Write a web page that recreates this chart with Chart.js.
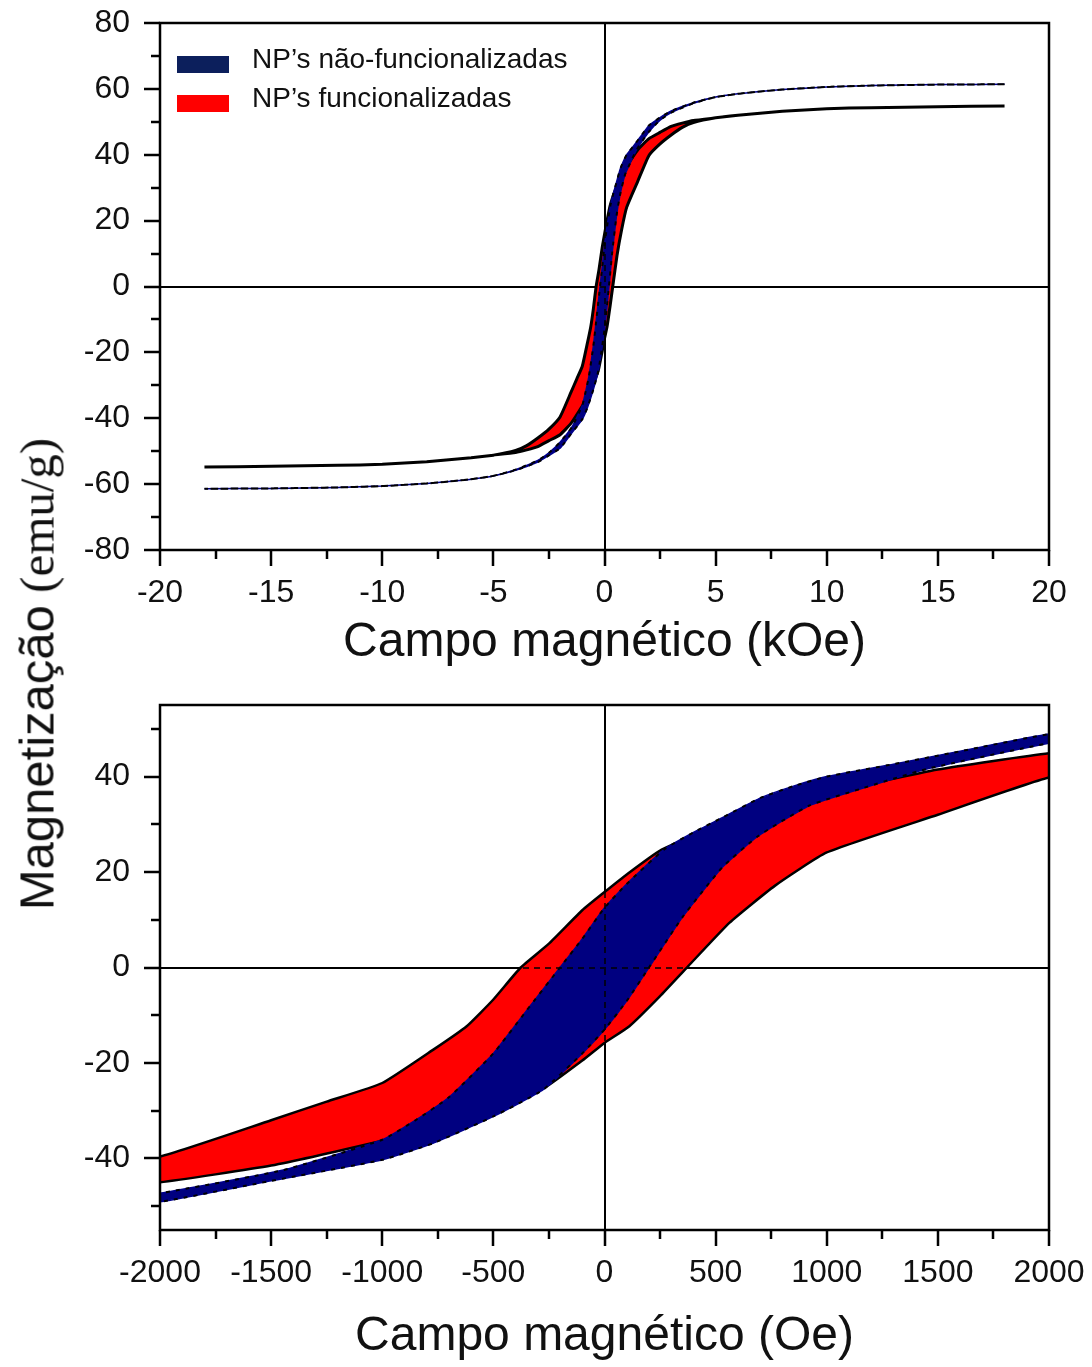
<!DOCTYPE html>
<html>
<head>
<meta charset="utf-8">
<script src="https://cdn.jsdelivr.net/npm/chart.js@4.4.1/dist/chart.umd.min.js"></script>
<style>
  html, body { margin: 0; padding: 0; background: #fff; }
  #wrap { position: relative; width: 1092px; height: 1367px; overflow: hidden; background: #fff; }
  canvas { position: absolute; left: 0; }
  #c1 { top: 0; }
  #c2 { top: 680px; }
  .sw { position: absolute; left: 177px; width: 52px; height: 17px; }
  .lt { position: absolute; left: 252px; font-family: 'Liberation Sans', Arial, sans-serif; font-size: 28px; line-height: 28px; color: #111; white-space: nowrap; }
  #ytitle { position: absolute; left: 37px; top: 674px; transform: translate(-50%, -50%) rotate(-90deg); white-space: nowrap; font-size: 49px; line-height: 49px; color: #111; }
  #ytitle .s { font-family: 'Liberation Sans', Arial, sans-serif; }
  #ytitle .r { font-family: 'Liberation Serif', 'Times New Roman', serif; }
</style>
</head>
<body>
<div id="wrap">
  <canvas id="c1" width="1092" height="680"></canvas>
  <canvas id="c2" width="1092" height="687"></canvas>
  <div id="legend"></div>
  <div id="ytitle"><span class="s">Magnetização</span> <span class="r">(emu/g)</span></div>
</div>
<script>
// ---------------- DATA (field in Oe, magnetization in emu/g) ----------------
const seriesNames = ['NP\u2019s não-funcionalizadas', 'NP\u2019s funcionalizadas'];

// Non-functionalized NPs (blue) - descending branch (upper)
const nfUpperField = [18000, 15000, 12000, 10000, 8000, 7000, 6000, 5000, 4000, 3000, 2500, 2000, 1600, 1300, 1000, 850, 700, 530, 400, 270, 100, 0, -100, -200, -350, -500, -700, -850, -1000, -1450, -2000, -2500, -3000, -4000, -5000, -6000, -7000, -8000, -10000, -12000, -15000, -18000];
const nfUpperMag   = [61.4, 61.3, 61.0, 60.6, 59.8, 59.2, 58.5, 57.5, 55.8, 53.3, 51.3, 48.9, 45.3, 42.6, 40.0, 38.0, 35.5, 31.4, 28.3, 24.8, 17.5, 12.5, 6.0, 0, -9.0, -18.0, -27.2, -32.0, -36.1, -42.5, -47.3, -50.5, -52.8, -55.6, -57.5, -58.5, -59.2, -59.8, -60.6, -61.0, -61.3, -61.4];
// Non-functionalized NPs (blue) - ascending branch (lower)
const nfLowerField = [-18000, -15000, -12000, -10000, -8000, -7000, -6000, -5000, -4000, -3000, -2500, -2000, -1500, -1000, -770, -500, -276, -100, 0, 100, 200, 350, 530, 690, 920, 1150, 1450, 2000, 2500, 3000, 4000, 5000, 6000, 7000, 8000, 10000, 12000, 15000, 18000];
const nfLowerMag   = [-61.4, -61.3, -61.0, -60.6, -59.8, -59.2, -58.5, -57.5, -55.8, -53.3, -51.3, -49.1, -44.7, -40.3, -36.8, -31.2, -25.6, -18.0, -13.0, -7.0, 0, 10.5, 21.0, 27.5, 33.9, 37.4, 41.6, 47.0, 50.5, 52.8, 55.6, 57.5, 58.5, 59.2, 59.8, 60.6, 61.0, 61.3, 61.4];

// Functionalized NPs (red) - descending branch (upper)
const fUpperField = [18000, 15000, 12000, 10000, 8000, 7000, 6000, 5000, 4000, 3500, 3000, 2500, 2000, 1500, 1000, 750, 500, 250, 100, 0, -100, -250, -377, -500, -620, -770, -1000, -1250, -1500, -2000, -2500, -3000, -3500, -4000, -5000, -6000, -7000, -8000, -10000, -12000, -15000, -18000];
const fUpperMag   = [54.8, 54.6, 54.3, 54.0, 53.2, 52.6, 52.0, 51.2, 50.4, 49.6, 48.6, 46.8, 44.9, 41.5, 36.5, 33.5, 29.5, 24.5, 19.5, 15.8, 12.0, 5.0, 0, -6.7, -12.3, -17.2, -24.2, -28.1, -32.0, -39.6, -43.3, -46.0, -48.3, -49.8, -51.2, -52.0, -52.6, -53.2, -54.0, -54.3, -54.6, -54.8];
// Functionalized NPs (red) - ascending branch (lower)
const fLowerField = [-18000, -15000, -12000, -10000, -8000, -7000, -6000, -5000, -4000, -3500, -3000, -2500, -2000, -1500, -1000, -750, -500, -276, -100, 0, 112, 250, 377, 563, 766, 1000, 1500, 2000, 2500, 3000, 3500, 4000, 5000, 6000, 7000, 8000, 10000, 12000, 15000, 18000];
const fLowerMag   = [-54.8, -54.6, -54.3, -54.0, -53.2, -52.6, -52.0, -51.2, -50.4, -49.6, -48.6, -46.8, -45.0, -41.5, -36.3, -33.3, -29.5, -25.4, -19.5, -15.8, -12.3, -6.0, 0.3, 9.4, 17.1, 24.1, 32.0, 39.8, 43.3, 46.0, 48.3, 49.8, 51.2, 52.0, 52.6, 53.2, 54.0, 54.3, 54.6, 54.8];

// Tick values
const topXTicks = [-20, -15, -10, -5, 0, 5, 10, 15, 20];
const topXMinor = [-17.5, -12.5, -7.5, -2.5, 2.5, 7.5, 12.5, 17.5];
const topYTicks = [-80, -60, -40, -20, 0, 20, 40, 60, 80];
const topYMinor = [-70, -50, -30, -10, 10, 30, 50, 70];
const botXTicks = [-2000, -1500, -1000, -500, 0, 500, 1000, 1500, 2000];
const botXMinor = [-1750, -1250, -750, -250, 250, 750, 1250, 1750];
const botYTicks = [-40, -20, 0, 20, 40];
const botYMinor = [-50, -30, -10, 10, 30, 50];

const topXTitle = 'Campo magnético (kOe)';
const botXTitle = 'Campo magnético (Oe)';

// ---------------- helpers ----------------
function loop(upF, upM, loF, loM, scale) {
  const pts = [];
  for (let i = 0; i < upF.length; i++) pts.push({x: upF[i] / scale, y: upM[i]});
  for (let i = 0; i < loF.length; i++) pts.push({x: loF[i] / scale, y: loM[i]});
  return pts;
}

const BLUE_FILL = '#000080';
const RED_FILL = '#ff0000';
const LEG_BLUE = '#0c1f5c';
const FONT = "'Liberation Sans', Arial, sans-serif";

const axesPlugin = {
  id: 'axesDeco',
  beforeDatasetsDraw(chart) {
    const {ctx, chartArea: a, scales: {x, y}} = chart;
    const x0 = Math.round(x.getPixelForValue(0)), y0 = Math.round(y.getPixelForValue(0));
    ctx.save();
    ctx.strokeStyle = '#000';
    ctx.lineWidth = 2;
    ctx.beginPath();
    ctx.moveTo(a.left, y0); ctx.lineTo(a.right, y0);
    ctx.moveTo(x0, a.top); ctx.lineTo(x0, a.bottom);
    ctx.stroke();
    ctx.restore();
  },
  afterDatasetsDraw(chart, args, opts) {
    const {ctx, chartArea: a, scales: {x, y}} = chart;
    const x0 = Math.round(x.getPixelForValue(0)), y0 = Math.round(y.getPixelForValue(0));
    ctx.save();
    // dashed zero lines visible through the filled loops
    ctx.strokeStyle = '#000';
    ctx.lineWidth = 1.5;
    ctx.setLineDash([6, 5]);
    ctx.beginPath();
    ctx.moveTo(a.left, y0); ctx.lineTo(a.right, y0);
    ctx.moveTo(x0, a.top); ctx.lineTo(x0, a.bottom);
    ctx.stroke();
    ctx.setLineDash([]);
    // outward tick marks (major from the scale, minor from the minor arrays)
    ctx.lineWidth = 2.5;
    ctx.beginPath();
    const major = 16, minor = 9;
    x.ticks.forEach(t => { const px = Math.round(x.getPixelForValue(t.value)); ctx.moveTo(px, a.bottom); ctx.lineTo(px, a.bottom + major); });
    (opts.xMinor || []).forEach(v => { const px = Math.round(x.getPixelForValue(v)); ctx.moveTo(px, a.bottom); ctx.lineTo(px, a.bottom + minor); });
    y.ticks.forEach(t => { const py = Math.round(y.getPixelForValue(t.value)); ctx.moveTo(a.left, py); ctx.lineTo(a.left - major, py); });
    (opts.yMinor || []).forEach(v => { const py = Math.round(y.getPixelForValue(v)); ctx.moveTo(a.left, py); ctx.lineTo(a.left - minor, py); });
    ctx.stroke();
    // frame
    ctx.lineWidth = 2.5;
    ctx.strokeRect(a.left, a.top, a.right - a.left, a.bottom - a.top);
    ctx.restore();
  }
};

function makeChart(id, cfg) {
  const blue = loop(nfUpperField, nfUpperMag, nfLowerField, nfLowerMag, cfg.fieldScale);
  const red = loop(fUpperField, fUpperMag, fLowerField, fLowerMag, cfg.fieldScale);
  const tickFont = {family: FONT, size: 32};
  const T = 0.15;
  return new Chart(document.getElementById(id), {
    type: 'line',
    data: {
      datasets: [
        {label: seriesNames[0] + ' (contorno)', data: blue, borderColor: '#000', borderWidth: 2, borderDash: [4, 6], fill: false, pointRadius: 0, tension: T, order: 0},
        {label: seriesNames[0], data: blue, borderColor: '#00008b', backgroundColor: BLUE_FILL, borderWidth: 1.5, fill: 'shape', pointRadius: 0, tension: T, order: 1},
        {label: seriesNames[1], data: red, borderColor: '#000', backgroundColor: RED_FILL, borderWidth: cfg.redWidth, fill: 'shape', pointRadius: 0, tension: T, order: 2}
      ]
    },
    options: {
      responsive: false,
      animation: false,
      events: [],
      layout: {padding: {left: 0, right: 43, top: cfg.padTop, bottom: 0}},
      plugins: {
        legend: {display: false},
        tooltip: {enabled: false},
        axesDeco: {xMinor: cfg.xMinor, yMinor: cfg.yMinor}
      },
      scales: {
        x: {
          type: 'linear', min: cfg.xMin, max: cfg.xMax,
          afterBuildTicks: s => { s.ticks = cfg.xTicks.map(v => ({value: v})); },
          afterFit: s => { s.height = cfg.xHeight; s.paddingLeft = 0; s.paddingRight = 0; s.paddingTop = 0; s.paddingBottom = 0; },
          grid: {display: false, drawTicks: false},
          border: {display: false},
          ticks: {font: tickFont, color: '#111', padding: 24, maxRotation: 0, autoSkip: false, callback: v => String(v)},
          title: {display: true, text: cfg.xTitle, color: '#111', font: {family: FONT, size: 48}, padding: {top: 0, bottom: cfg.titlePad}}
        },
        y: {
          type: 'linear', min: cfg.yMin, max: cfg.yMax,
          afterBuildTicks: s => { s.ticks = cfg.yTicks.map(v => ({value: v})); },
          afterFit: s => { s.width = 160; s.paddingTop = 0; s.paddingBottom = 0; s.paddingLeft = 0; s.paddingRight = 0; },
          grid: {display: false, drawTicks: false},
          border: {display: false},
          ticks: {font: tickFont, color: '#111', padding: 30, autoSkip: false, callback: v => String(v)}
        }
      }
    },
    plugins: [axesPlugin]
  });
}

makeChart('c1', {fieldScale: 1000, xMin: -20, xMax: 20, yMin: -80, yMax: 80, xTicks: topXTicks, xMinor: topXMinor, yTicks: topYTicks, yMinor: topYMinor, xTitle: topXTitle, padTop: 23, xHeight: 130, titlePad: 8, redWidth: 3});
makeChart('c2', {fieldScale: 1, xMin: -2000, xMax: 2000, yMin: -55, yMax: 55, xTicks: botXTicks, xMinor: botXMinor, yTicks: botYTicks, yMinor: botYMinor, xTitle: botXTitle, padTop: 25, xHeight: 137, titlePad: 1, redWidth: 2.5});

// Legend (inside top plot), built from the series names
const legend = document.getElementById('legend');
const legendColors = [LEG_BLUE, RED_FILL];
const swTop = [56, 95], txTop = [45, 84];
seriesNames.forEach((name, i) => {
  const sw = document.createElement('div');
  sw.className = 'sw'; sw.style.top = swTop[i] + 'px'; sw.style.background = legendColors[i];
  const tx = document.createElement('div');
  tx.className = 'lt'; tx.style.top = txTop[i] + 'px'; tx.textContent = name;
  legend.appendChild(sw); legend.appendChild(tx);
});
</script>
</body>
</html>
